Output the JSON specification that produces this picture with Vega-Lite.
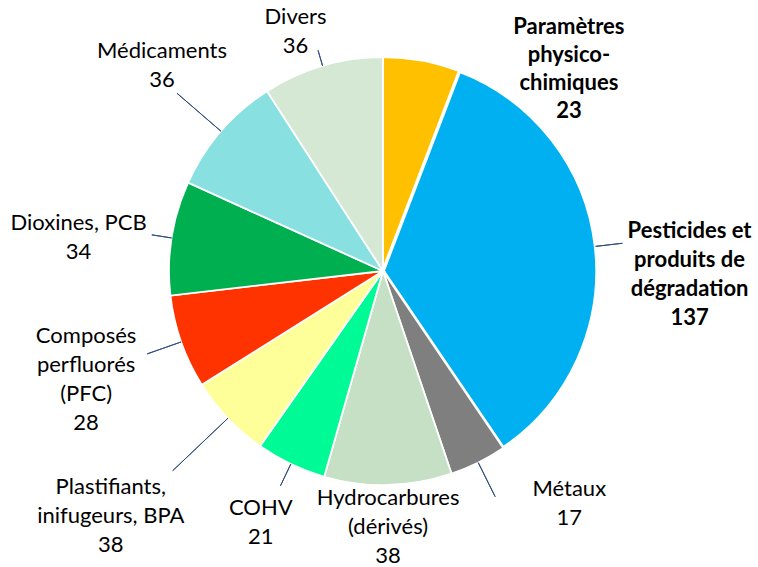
{
  "$schema": "https://vega.github.io/schema/vega-lite/v6.json",
  "width": 750,
  "height": 542,
  "autosize": "none",
  "padding": {"left": 8, "top": 0, "right": 0, "bottom": 25},
  "background": "white",
  "config": {"view": {"stroke": null}},
  "data": {
    "values": [
      {"idx": 1, "cat": "Paramètres", "value": 23, "lines": ["Paramètres", "physico-", "chimiques", "23"]},
      {"idx": 2, "cat": "Pesticides", "value": 137, "lines": ["Pesticides et", "produits de", "dégradation", "137"]},
      {"idx": 3, "cat": "Métaux", "value": 17, "lines": ["Métaux", "17"]},
      {"idx": 4, "cat": "Hydrocarbures", "value": 38, "lines": ["Hydrocarbures", "(dérivés)", "38"]},
      {"idx": 5, "cat": "COHV", "value": 21, "lines": ["COHV", "21"]},
      {"idx": 6, "cat": "Plastifiants", "value": 25, "lines": ["Plastifiants,", "inifugeurs, BPA", "38"]},
      {"idx": 7, "cat": "PFC", "value": 28, "lines": ["Composés", "perfluorés", "(PFC)", "28"]},
      {"idx": 8, "cat": "Dioxines", "value": 34, "lines": ["Dioxines, PCB", "34"]},
      {"idx": 9, "cat": "Médicaments", "value": 36, "lines": ["Médicaments", "36"]},
      {"idx": 10, "cat": "Divers", "value": 36, "lines": ["Divers", "36"]}
    ]
  },
  "encoding": {
    "theta": {"field": "value", "type": "quantitative", "stack": true},
    "order": {"field": "idx", "type": "quantitative"},
    "detail": {"field": "cat", "type": "nominal"}
  },
  "layer": [
    {
      "mark": {"type": "arc", "outerRadius": 214, "stroke": "white"},
      "encoding": {
        "color": {
          "field": "cat", "type": "nominal", "legend": null,
          "scale": {
            "domain": ["Paramètres", "Pesticides", "Métaux", "Hydrocarbures", "COHV", "Plastifiants", "PFC", "Dioxines", "Médicaments", "Divers"],
            "range": ["#FFC000", "#00B0F0", "#7F7F7F", "#C5E0C4", "#00FA96", "#FFFF99", "#FF3300", "#00B050", "#88E0E0", "#D5E8D4"]
          }
        },
        "strokeWidth": {"condition": {"test": "datum.cat === 'Pesticides'", "value": 3.5}, "value": 1.8}
      }
    },
    {
      "mark": {"type": "arc", "innerRadius": 214, "outerRadius": 230, "padAngle": 3, "fillOpacity": 0, "stroke": "#2F4F7F", "strokeWidth": 1},
      "encoding": {"strokeOpacity": {"condition": {"test": "datum.cat === 'Divers'", "value": 1}, "value": 0}}
    },
    {
      "mark": {"type": "arc", "innerRadius": 214, "outerRadius": 272, "padAngle": 3, "fillOpacity": 0, "stroke": "#2F4F7F", "strokeWidth": 1},
      "encoding": {"strokeOpacity": {"condition": {"test": "datum.cat === 'Médicaments'", "value": 1}, "value": 0}}
    },
    {
      "mark": {"type": "arc", "innerRadius": 214, "outerRadius": 234, "padAngle": 3, "fillOpacity": 0, "stroke": "#2F4F7F", "strokeWidth": 1},
      "encoding": {"strokeOpacity": {"condition": {"test": "datum.cat === 'Dioxines'", "value": 1}, "value": 0}}
    },
    {
      "mark": {"type": "arc", "innerRadius": 214, "outerRadius": 250, "padAngle": 3, "fillOpacity": 0, "stroke": "#2F4F7F", "strokeWidth": 1},
      "encoding": {"strokeOpacity": {"condition": {"test": "datum.cat === 'PFC'", "value": 1}, "value": 0}}
    },
    {
      "mark": {"type": "arc", "innerRadius": 214, "outerRadius": 290, "padAngle": 3, "fillOpacity": 0, "stroke": "#2F4F7F", "strokeWidth": 1},
      "encoding": {"strokeOpacity": {"condition": {"test": "datum.cat === 'Plastifiants'", "value": 1}, "value": 0}}
    },
    {
      "mark": {"type": "arc", "innerRadius": 214, "outerRadius": 238, "padAngle": 3, "fillOpacity": 0, "stroke": "#2F4F7F", "strokeWidth": 1},
      "encoding": {"strokeOpacity": {"condition": {"test": "datum.cat === 'COHV'", "value": 1}, "value": 0}}
    },
    {
      "mark": {"type": "arc", "innerRadius": 214, "outerRadius": 252, "padAngle": 3, "fillOpacity": 0, "stroke": "#2F4F7F", "strokeWidth": 1},
      "encoding": {"strokeOpacity": {"condition": {"test": "datum.cat === 'Métaux'", "value": 1}, "value": 0}}
    },
    {
      "mark": {"type": "arc", "innerRadius": 214, "outerRadius": 241, "padAngle": 3, "fillOpacity": 0, "stroke": "#2F4F7F", "strokeWidth": 1},
      "encoding": {"strokeOpacity": {"condition": {"test": "datum.cat === 'Pesticides'", "value": 1}, "value": 0}}
    },
    {
      "mark": {"type": "text", "radius": 214, "dx": 147, "dy": -34, "font": "Lato", "fontSize": 22, "lineHeight": 28, "fontWeight": "bold", "baseline": "middle", "align": "center", "color": "#000000"},
      "encoding": {"text": {"condition": {"test": "datum.cat === 'Paramètres'", "field": "lines", "type": "nominal"}, "value": ""}}
    },
    {
      "mark": {"type": "text", "radius": 214, "dx": 94, "dy": -15.5, "font": "Lato", "fontSize": 22, "lineHeight": 29, "fontWeight": "bold", "baseline": "middle", "align": "center", "color": "#000000"},
      "encoding": {"text": {"condition": {"test": "datum.cat === 'Pesticides'", "field": "lines", "type": "nominal"}, "value": ""}}
    },
    {
      "mark": {"type": "text", "radius": 214, "dx": 91, "dy": 26.5, "font": "Lato", "fontSize": 22, "lineHeight": 29, "baseline": "middle", "align": "center", "color": "#000000"},
      "encoding": {"text": {"condition": {"test": "datum.cat === 'Métaux'", "field": "lines", "type": "nominal"}, "value": ""}}
    },
    {
      "mark": {"type": "text", "radius": 214, "dx": 0, "dy": 13, "font": "Lato", "fontSize": 22, "lineHeight": 29, "baseline": "middle", "align": "center", "color": "#000000"},
      "encoding": {"text": {"condition": {"test": "datum.cat === 'Hydrocarbures'", "field": "lines", "type": "nominal"}, "value": ""}}
    },
    {
      "mark": {"type": "text", "radius": 214, "dx": -30, "dy": 43.5, "font": "Lato", "fontSize": 22, "lineHeight": 29, "baseline": "middle", "align": "center", "color": "#000000"},
      "encoding": {"text": {"condition": {"test": "datum.cat === 'COHV'", "field": "lines", "type": "nominal"}, "value": ""}}
    },
    {
      "mark": {"type": "text", "radius": 214, "dx": -117, "dy": 69, "font": "Lato", "fontSize": 22, "lineHeight": 29, "baseline": "middle", "align": "center", "color": "#000000"},
      "encoding": {"text": {"condition": {"test": "datum.cat === 'Plastifiants'", "field": "lines", "type": "nominal"}, "value": ""}}
    },
    {
      "mark": {"type": "text", "radius": 214, "dx": -95, "dy": -5.5, "font": "Lato", "fontSize": 22, "lineHeight": 29, "baseline": "middle", "align": "center", "color": "#000000"},
      "encoding": {"text": {"condition": {"test": "datum.cat === 'PFC'", "field": "lines", "type": "nominal"}, "value": ""}}
    },
    {
      "mark": {"type": "text", "radius": 214, "dx": -93, "dy": -14.5, "font": "Lato", "fontSize": 22, "lineHeight": 29, "baseline": "middle", "align": "center", "color": "#000000"},
      "encoding": {"text": {"condition": {"test": "datum.cat === 'Dioxines'", "field": "lines", "type": "nominal"}, "value": ""}}
    },
    {
      "mark": {"type": "text", "radius": 214, "dx": -59, "dy": -80.5, "font": "Lato", "fontSize": 22, "lineHeight": 29, "baseline": "middle", "align": "center", "color": "#000000"},
      "encoding": {"text": {"condition": {"test": "datum.cat === 'Médicaments'", "field": "lines", "type": "nominal"}, "value": ""}}
    },
    {
      "mark": {"type": "text", "radius": 214, "dx": -27, "dy": -48.5, "font": "Lato", "fontSize": 22, "lineHeight": 29, "baseline": "middle", "align": "center", "color": "#000000"},
      "encoding": {"text": {"condition": {"test": "datum.cat === 'Divers'", "field": "lines", "type": "nominal"}, "value": ""}}
    }
  ]
}
